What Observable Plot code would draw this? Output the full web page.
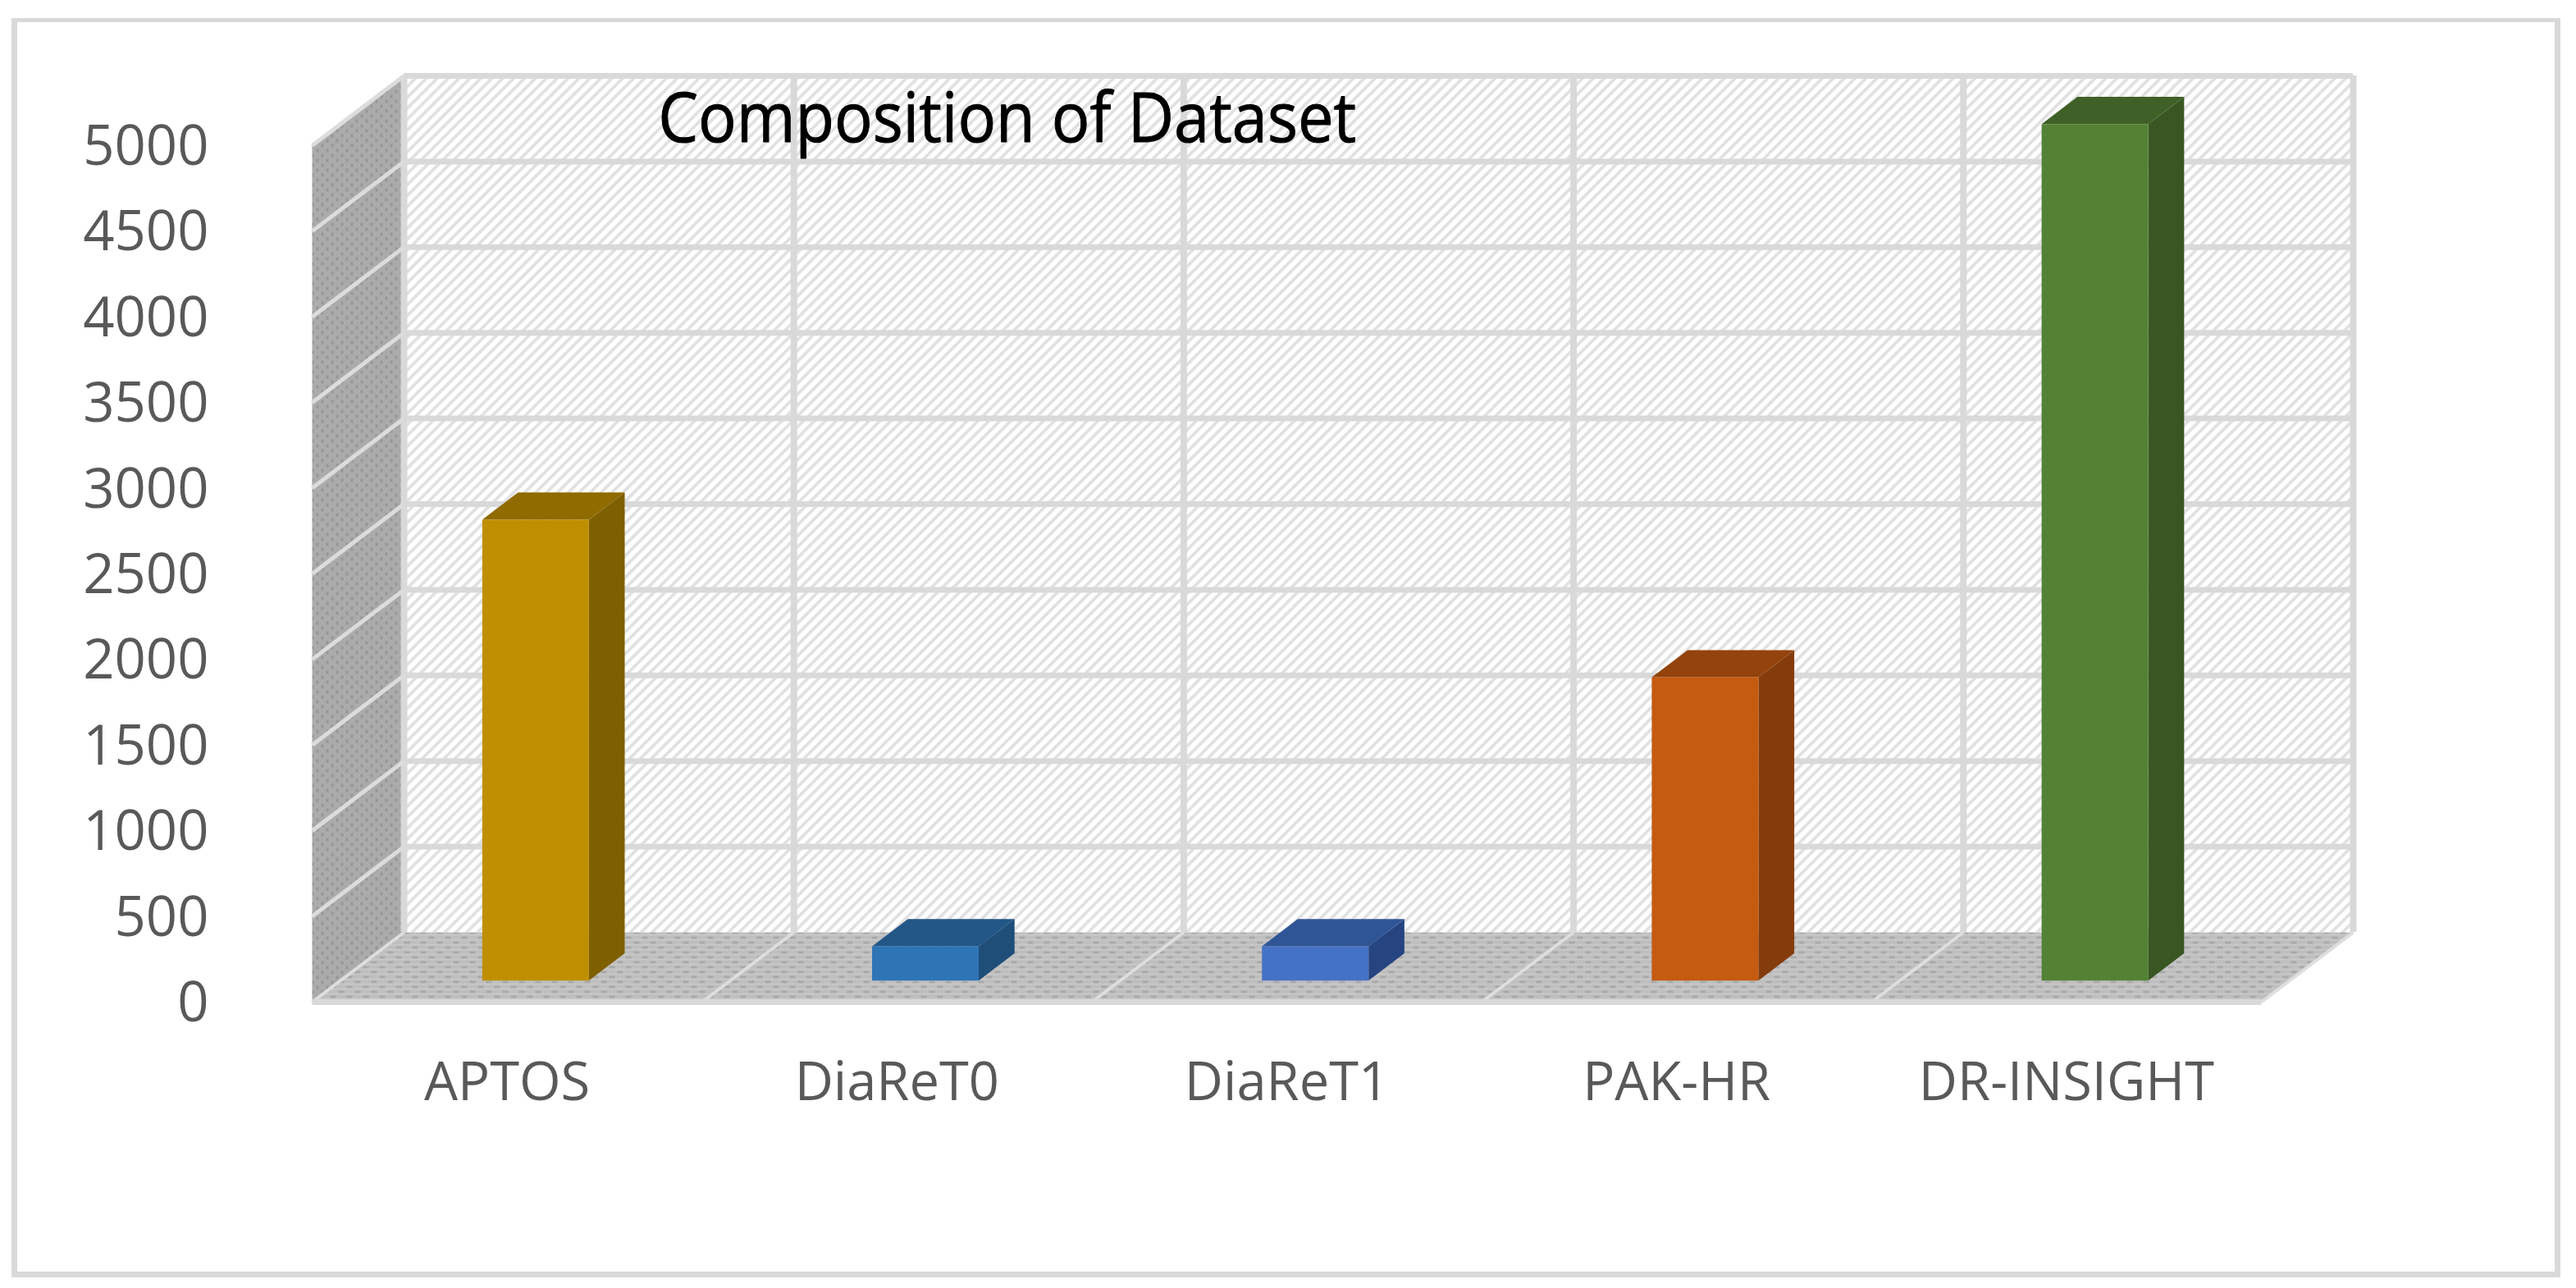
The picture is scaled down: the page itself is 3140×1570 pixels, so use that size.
<!DOCTYPE html>
<html>
<head>
<meta charset="utf-8">
<script src="https://cdn.jsdelivr.net/npm/d3@7"></script>
<script src="https://cdn.jsdelivr.net/npm/@observablehq/plot@0.6"></script>
<style>
  html, body { margin: 0; padding: 0; background: #fff; }
  #chart { position: relative; width: 3140px; height: 1570px; overflow: hidden; }
  #frame { position: absolute; left: 14px; top: 22px; width: 3107px; height: 1535px; box-sizing: border-box;
           border: 7px solid #d9d9d9; border-top-width: 5px; }
  #chart svg { position: absolute; left: 0; top: 0; display: block; }
</style>
</head>
<body>
<div id="chart"><div id="frame"></div></div>
<script>
const titleText = "Composition of Dataset";
const categories = ["APTOS", "DiaReT0", "DiaReT1", "PAK-HR", "DR-INSIGHT"];
const values = [2690, 200, 200, 1770, 5000];
const tickValues = [0, 500, 1000, 1500, 2000, 2500, 3000, 3500, 4000, 4500, 5000];
const frontColors = ["#BF8F00", "#2E75B6", "#4472C4", "#C55A11", "#548235"];
const topColors = ["#8F6B00", "#225788", "#2F5597", "#94430D", "#3F6128"];
const sideColors = ["#7F6000", "#1F4E79", "#264480", "#843C0C", "#385723"];

// Oblique projection: depth 0 is the back wall, depth 1 the front edge of the floor.
const depthX = 0.2357;     // in category widths
const depthY = 407;        // in value units
const barWidth = 0.2736;   // in category widths
const barBack = 0.30, barFront = 0.69;

const project = (x, v, d) => ({x: x - d * depthX, y: v - d * depthY});
const face = (id, fill, corners) => corners.map(([x, v, d]) => ({id, fill, ...project(x, v, d)}));
const segment = (id, a, b) => [a, b].map(([x, v, d]) => ({id, ...project(x, v, d)}));

const catEdges = d3.range(categories.length + 1);
const nCat = categories.length;
const yMax = d3.max(tickValues);

const wallFace = face("wall", "", [[0, 0, 0], [nCat, 0, 0], [nCat, yMax, 0], [0, yMax, 0]]);
const floorFace = face("floor", "", [[0, 0, 0], [nCat, 0, 0], [nCat, 0, 1], [0, 0, 1]]);
const sideFace = face("side", "", [[0, 0, 0], [0, yMax, 0], [0, yMax, 1], [0, 0, 1]]);

const sideLines = tickValues.filter(t => t > 0).flatMap(t => segment("s" + t, [0, t, 0], [0, t, 1]));
const floorLines = catEdges.flatMap(i => segment("f" + i, [i, 0, 0], [i, 0, 1]));
const frontEdge = segment("edge", [0, 0, 1], [nCat, 0, 1]);

const barFaces = categories.flatMap((c, i) => {
  const x0 = i + 0.5 - barWidth / 2, x1 = i + 0.5 + barWidth / 2, v = values[i];
  return [
    ...face(c + "-side", sideColors[i], [[x1, 0, barFront], [x1, 0, barBack], [x1, v, barBack], [x1, v, barFront]]),
    ...face(c + "-top", topColors[i], [[x0, v, barFront], [x1, v, barFront], [x1, v, barBack], [x0, v, barBack]]),
    ...face(c + "-front", frontColors[i], [[x0, 0, barFront], [x1, 0, barFront], [x1, v, barFront], [x0, v, barFront]])
  ];
});

const patterns = () => {
  const defs = d3.create("svg:defs");
  defs.html(`
    <pattern id="wallHatch" patternUnits="userSpaceOnUse" width="9.4" height="9.4" patternTransform="rotate(45)">
      <rect width="9.4" height="9.4" fill="#ffffff"/>
      <rect width="3.8" height="9.4" fill="#e1e1e1"/>
    </pattern>
    <pattern id="sideDots" patternUnits="userSpaceOnUse" width="12" height="12">
      <rect width="12" height="12" fill="#ababab"/>
      <rect x="1" y="1" width="3" height="4" fill="#979797"/>
      <rect x="7" y="7" width="3" height="4" fill="#979797"/>
    </pattern>
    <pattern id="floorDots" patternUnits="userSpaceOnUse" width="20" height="12">
      <rect width="20" height="12" fill="#bebebe"/>
      <rect y="4" width="20" height="2" fill="#c8c8c8"/>
      <rect y="10" width="20" height="2" fill="#c8c8c8"/>
      <rect x="2" y="1" width="7" height="3" fill="#a9a9a9"/>
      <rect x="12" y="7" width="7" height="3" fill="#a9a9a9"/>
    </pattern>`);
  return defs.node();
};

const polygon = (rows, fill) => Plot.line(rows, {x: "x", y: "y", fill, stroke: "none", curve: "linear-closed"});
const gridColor = "#d9d9d9";

const chart = Plot.plot({
  width: 3140,
  height: 1570,
  marginLeft: 492,
  marginRight: 272,
  marginTop: 92,
  marginBottom: 434,
  style: {fontFamily: "'Open Sans', sans-serif", background: "transparent"},
  x: {domain: [0, nCat]},
  y: {domain: [0, yMax]},
  color: {type: "identity"},
  marks: [
    patterns,
    polygon(wallFace, "url(#wallHatch)"),
    polygon(floorFace, "url(#floorDots)"),
    polygon(sideFace, "url(#sideDots)"),
    Plot.ruleY(tickValues.filter(t => t > 0), {stroke: gridColor, strokeWidth: 7}),
    Plot.ruleX(catEdges, {stroke: gridColor, strokeWidth: 8}),
    Plot.line(sideLines, {x: "x", y: "y", z: "id", stroke: "#dcdcdc", strokeWidth: 5, strokeLinecap: "butt"}),
    Plot.line(floorLines, {x: "x", y: "y", z: "id", stroke: "#dedede", strokeWidth: 4, strokeLinecap: "butt"}),
    Plot.line(frontEdge, {x: "x", y: "y", stroke: gridColor, strokeWidth: 7, strokeLinecap: "butt"}),
    Plot.line(barFaces, {x: "x", y: "y", z: "id", fill: "fill", stroke: "none", curve: "linear-closed"}),
    Plot.axisY({
      ticks: tickValues, tickFormat: "d", tickSize: 0, tickPadding: 0, label: null,
      dx: -238, dy: 87, fontSize: 67, color: "#595959"
    }),
    Plot.axisX({
      ticks: categories.map((c, i) => i + 0.5), tickFormat: t => categories[t - 0.5],
      tickSize: 0, tickPadding: 0, label: null,
      dx: -112, dy: 158, fontSize: 65, color: "#595959"
    }),
    Plot.text([titleText], {x: 1.547, y: 4741, text: d => d, fontSize: 84, fill: "#000", stroke: "#000", strokeWidth: 1, className: "chart-title"})
  ]
});
const titleNode = chart.querySelector(".chart-title text");
if (titleNode) {
  titleNode.setAttribute("textLength", 851);
  titleNode.setAttribute("lengthAdjust", "spacingAndGlyphs");
}
document.getElementById("chart").appendChild(chart);
</script>
</body>
</html>
